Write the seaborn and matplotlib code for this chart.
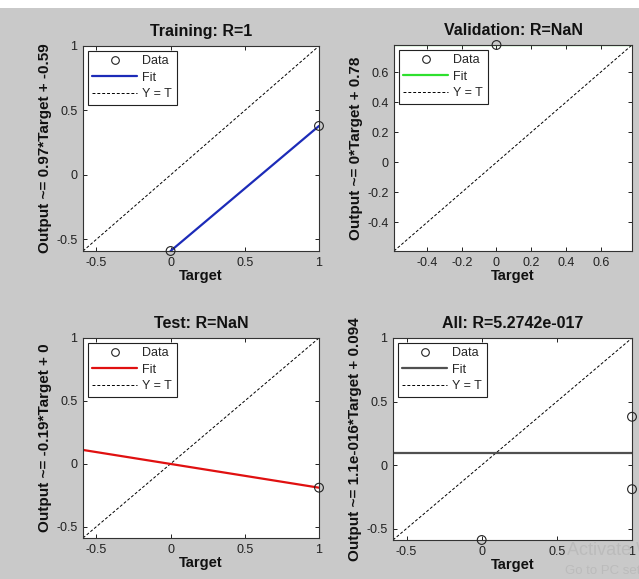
import matplotlib
matplotlib.use("Agg")
import matplotlib.pyplot as plt
from matplotlib.lines import Line2D
from matplotlib.patches import Rectangle
import seaborn as sns

# Дані
lims_train = [-0.59, 1.0]
train_t = [0.0, 1.0]
train_y = [-0.59, 0.38]
train_fit_x = [0.0, 1.0]
train_fit_y = [-0.59, 0.38]

lims_val = [-0.59, 0.78]
val_t = [0.0]
val_y = [0.78]
val_fit_x = [-0.59, 0.78]
val_fit_y = [0.78, 0.78]

lims_test = [-0.59, 1.0]
test_t = [1.0]
test_y = [-0.19]
test_fit_x = [-0.59, 1.0]
test_fit_y = [0.11, -0.19]

lims_all = [-0.59, 1.0]
all_t = [0.0, 1.0, 1.0]
all_y = [-0.59, 0.38, -0.19]
all_fit_x = [-0.59, 1.0]
all_fit_y = [0.094, 0.094]

titles = ["Training: R=1", "Validation: R=NaN", "Test: R=NaN", "All: R=5.2742e-017"]
ylabels = ["Output ~= 0.97*Target + -0.59", "Output ~= 0*Target + 0.78",
           "Output ~= -0.19*Target + 0", "Output ~= 1.1e-016*Target + 0.094"]
ticks_main = [-0.5, 0, 0.5, 1]
ticks_val_x = [-0.4, -0.2, 0, 0.2, 0.4, 0.6]
ticks_val_y = [-0.4, -0.2, 0, 0.2, 0.4, 0.6]
fit_colors = ["#1c2bb8", "#2ee02e", "#e01010", "#505050"]

sns.set_theme(style="ticks")
plt.rcParams["font.family"] = ["Liberation Sans", "DejaVu Sans"]

W, H = 639, 579
fig = plt.figure(figsize=(W / 100, H / 100), dpi=100, facecolor="#c9c9c9")
fig.patches.append(Rectangle((0, 1 - 8 / H), 1, 8 / H, transform=fig.transFigure,
                             facecolor="white", edgecolor="none", zorder=0))

# позиції осей у пікселях: left, right, top, bottom
boxes = [(83, 319, 46, 251), (394, 632, 45, 251), (83, 319, 338, 538), (393, 632, 338, 540)]

panels = [
    (train_t, train_y, train_fit_x, train_fit_y, lims_train, ticks_main, ticks_main),
    (val_t, val_y, val_fit_x, val_fit_y, lims_val, ticks_val_x, ticks_val_y),
    (test_t, test_y, test_fit_x, test_fit_y, lims_test, ticks_main, ticks_main),
    (all_t, all_y, all_fit_x, all_fit_y, lims_all, ticks_main, ticks_main),
]

for i, (t, y, fx, fy, lims, xt, yt) in enumerate(panels):
    l, r, top, b = boxes[i]
    ax = fig.add_axes([l / W, 1 - b / H, (r - l) / W, (b - top) / H])
    ax.set_facecolor("white")

    sns.lineplot(x=lims, y=lims, ax=ax, color="black", linestyle=(0, (3, 2)), linewidth=0.7)
    sns.lineplot(x=fx, y=fy, ax=ax, color=fit_colors[i], linewidth=1.6)
    sns.scatterplot(x=t, y=y, ax=ax, marker="o", s=40, facecolor="none",
                    edgecolor="#222222", linewidth=0.8, clip_on=False, zorder=5)

    ax.set_xlim(lims)
    ax.set_ylim(lims)
    ax.set_xticks(xt)
    ax.set_yticks(yt)
    ax.set_xticklabels([f"{v:g}" for v in xt])
    ax.set_yticklabels([f"{v:g}" for v in yt])
    ax.tick_params(direction="in", length=3, width=0.7, labelsize=9, colors="#222222",
                   top=True, right=True, pad=4)
    for s in ax.spines.values():
        s.set_visible(True)
        s.set_linewidth(0.8)
        s.set_color("#333333")

    ax.set_title(titles[i], fontsize=11.5, fontweight="bold", pad=7, color="#111111")
    ax.set_xlabel("Target", fontsize=10.5, fontweight="bold", labelpad=0, color="#111111")
    ax.set_ylabel(ylabels[i], fontsize=11, fontweight="bold", labelpad=3, color="#111111")

    handles = [
        Line2D([], [], linestyle="none", marker="o", markersize=5.5, markerfacecolor="none",
               markeredgecolor="#222222", markeredgewidth=0.8),
        Line2D([], [], color=fit_colors[i], linewidth=1.6),
        Line2D([], [], color="black", linestyle=(0, (3, 2)), linewidth=0.7),
    ]
    leg = ax.legend(handles, ["Data", "Fit", "Y = T"], loc="upper left", fontsize=9,
                    frameon=True, fancybox=False, handlelength=3.6, handletextpad=0.4,
                    labelspacing=0.35, borderpad=0.35, borderaxespad=0.4)
    leg.get_frame().set_edgecolor("#222222")
    leg.get_frame().set_linewidth(0.8)
    leg.get_frame().set_alpha(1)

# напис-водяний знак
fig.text(567 / W, 1 - 555 / H, "Activate Windows", fontsize=13, color="#b8b8b8", alpha=0.8)
fig.text(565 / W, 1 - 574 / H, "Go to PC settings to activate Windows.", fontsize=9.5,
         color="#b8b8b8", alpha=0.8)

fig.savefig("out.png", dpi=100, facecolor=fig.get_facecolor())
